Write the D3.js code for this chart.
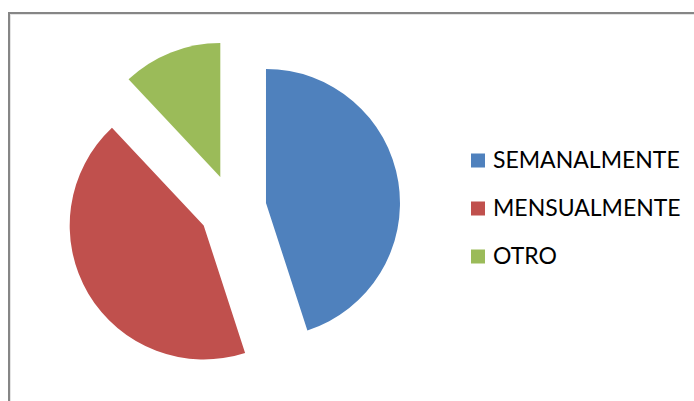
<!DOCTYPE html>
<html>
<head>
<meta charset="utf-8">
<script src="https://cdn.jsdelivr.net/npm/d3@7"></script>
<style>
  html, body { margin: 0; padding: 0; background: #fff; }
  svg { display: block; }
</style>
</head>
<body>
<svg id="chart"></svg>
<script>
// values (percent shares)
const categories = ["SEMANALMENTE", "MENSUALMENTE", "OTRO"]
const values = [45, 43, 12]
const colors = ["#4F81BD", "#C0504D", "#9BBB59"]

const width = 694
const height = 401
const cx = 232.7, cy = 208.3
const radius = 134
const explode = 33.7

const svg = d3.select("#chart")
    .attr("width", width)
    .attr("height", height)

// chart frame (runs off the right and bottom edges)
svg.append("rect")
    .attr("x", 9)
    .attr("y", 13)
    .attr("width", width + 20)
    .attr("height", height + 20)
    .attr("fill", "none")
    .attr("stroke", "#868686")
    .attr("stroke-width", 2)
svg.append("rect")
    .attr("x", 10.5)
    .attr("y", 14.5)
    .attr("width", width + 20)
    .attr("height", height + 20)
    .attr("fill", "none")
    .attr("stroke", "#e4e4e4")
    .attr("stroke-width", 1)

const pie = d3.pie().sort(null).value(d => d)
const arc = d3.arc().innerRadius(0).outerRadius(radius)

const slices = svg.append("g")
    .attr("transform", `translate(${cx},${cy})`)
    .selectAll("path")
    .data(pie(values))
    .join("path")
    .attr("d", arc)
    .attr("fill", (d, i) => colors[i])
    .attr("transform", d => {
        const mid = (d.startAngle + d.endAngle) / 2
        return `translate(${explode * Math.sin(mid)},${-explode * Math.cos(mid)})`
    })

// legend
const legend = svg.append("g")
    .attr("transform", "translate(471,0)")
    .selectAll("g")
    .data(categories)
    .join("g")
    .attr("transform", (d, i) => `translate(0,${168 + i * 48})`)

legend.append("rect")
    .attr("x", 0)
    .attr("y", -14.5)
    .attr("width", 14)
    .attr("height", 14)
    .attr("fill", (d, i) => colors[i])

legend.append("text")
    .attr("x", 22)
    .attr("y", 0)
    .attr("font-family", "Lato, 'Open Sans', sans-serif")
    .attr("font-size", 23)
    .attr("fill", "#000")
    .text(d => d)
</script>
</body>
</html>
